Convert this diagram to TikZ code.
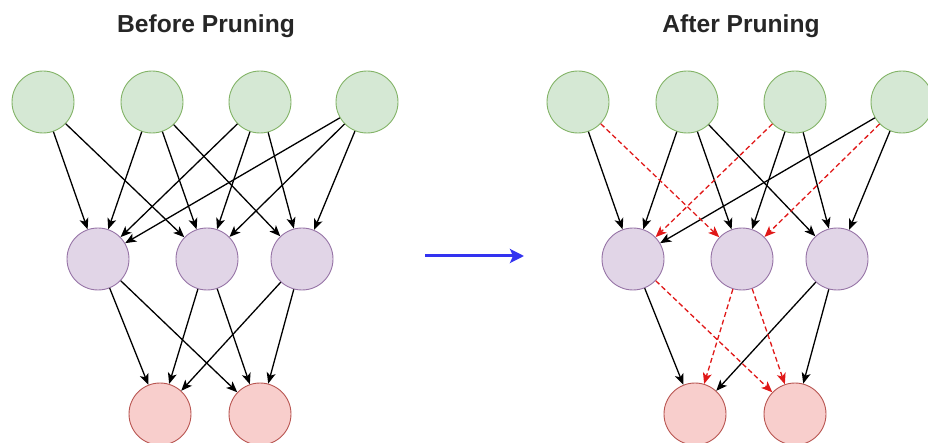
\documentclass[tikz,border=0pt]{standalone}
\usepackage{fontspec}
\setmainfont{Liberation Sans}
\usetikzlibrary{arrows.meta}
\definecolor{inFill}{HTML}{D5E8D4}
\definecolor{inLine}{HTML}{82B366}
\definecolor{hidFill}{HTML}{E1D5E7}
\definecolor{hidLine}{HTML}{9673A6}
\definecolor{outFill}{HTML}{F8CECC}
\definecolor{outLine}{HTML}{B85450}
\definecolor{cutRed}{HTML}{E01818}
\definecolor{flowBlue}{HTML}{3333F0}
\tikzset{
  neuron/.style={circle, minimum size=62pt, inner sep=0pt, line width=0.9pt},
  inneuron/.style={neuron, fill=inFill, draw=inLine},
  hidneuron/.style={neuron, fill=hidFill, draw=hidLine},
  outneuron/.style={neuron, fill=outFill, draw=outLine},
  link/.style={line width=1.3pt, draw=black, -{Stealth[length=11pt,width=9pt,inset=2.8pt]}},
  pruned/.style={line width=1.3pt, draw=cutRed, dash pattern=on 5pt off 3pt,
    -{Stealth[length=11pt,width=9pt,inset=2.8pt]}},
  heading/.style={font=\bfseries\fontsize{24.6}{28}\selectfont, text=black!85},
  flow/.style={line width=3pt, draw=flowBlue, -{Stealth[length=14pt,width=14pt,inset=3pt]}}
}
\begin{document}
\begin{tikzpicture}[x=1pt, y=-1pt]
\useasboundingbox (0,0) rectangle (928,443);

% ---- network before pruning ----
\node[heading] (titleA) at (206,26) {Before Pruning};
\node[inneuron] (a1) at (43,102) {};
\node[inneuron] (a2) at (152,102) {};
\node[inneuron] (a3) at (260,102) {};
\node[inneuron] (a4) at (367,102) {};
\node[hidneuron] (ah1) at (98,259) {};
\node[hidneuron] (ah2) at (207,259) {};
\node[hidneuron] (ah3) at (302,259) {};
\node[outneuron] (ao1) at (160,414) {};
\node[outneuron] (ao2) at (260,414) {};

\foreach \s/\t in {a1/ah1, a1/ah2, a2/ah1, a2/ah2, a2/ah3, a3/ah1, a3/ah2, a3/ah3,
                   a4/ah1, a4/ah2, a4/ah3, ah1/ao1, ah1/ao2, ah2/ao1, ah2/ao2,
                   ah3/ao1, ah3/ao2}
  \draw[link] (\s) -- (\t);

% ---- arrow between the two networks ----
\coordinate (flowS) at (425,256);
\coordinate (flowE) at (524,256);
\draw[flow] (flowS) -- (flowE);

% ---- network after pruning ----
\node[heading] (titleB) at (741,26) {After Pruning};
\node[inneuron] (b1) at (578,102) {};
\node[inneuron] (b2) at (687,102) {};
\node[inneuron] (b3) at (795,102) {};
\node[inneuron] (b4) at (902,102) {};
\node[hidneuron] (bh1) at (633,259) {};
\node[hidneuron] (bh2) at (742,259) {};
\node[hidneuron] (bh3) at (837,259) {};
\node[outneuron] (bo1) at (695,414) {};
\node[outneuron] (bo2) at (795,414) {};

% kept connections
\foreach \s/\t in {b1/bh1, b2/bh1, b2/bh2, b2/bh3, b3/bh2, b3/bh3,
                   b4/bh1, b4/bh3, bh1/bo1, bh3/bo1, bh3/bo2}
  \draw[link] (\s) -- (\t);
% removed connections
\foreach \s/\t in {b1/bh2, b3/bh1, b4/bh2, bh1/bo2, bh2/bo1, bh2/bo2}
  \draw[pruned] (\s) -- (\t);
\end{tikzpicture}
\end{document}
